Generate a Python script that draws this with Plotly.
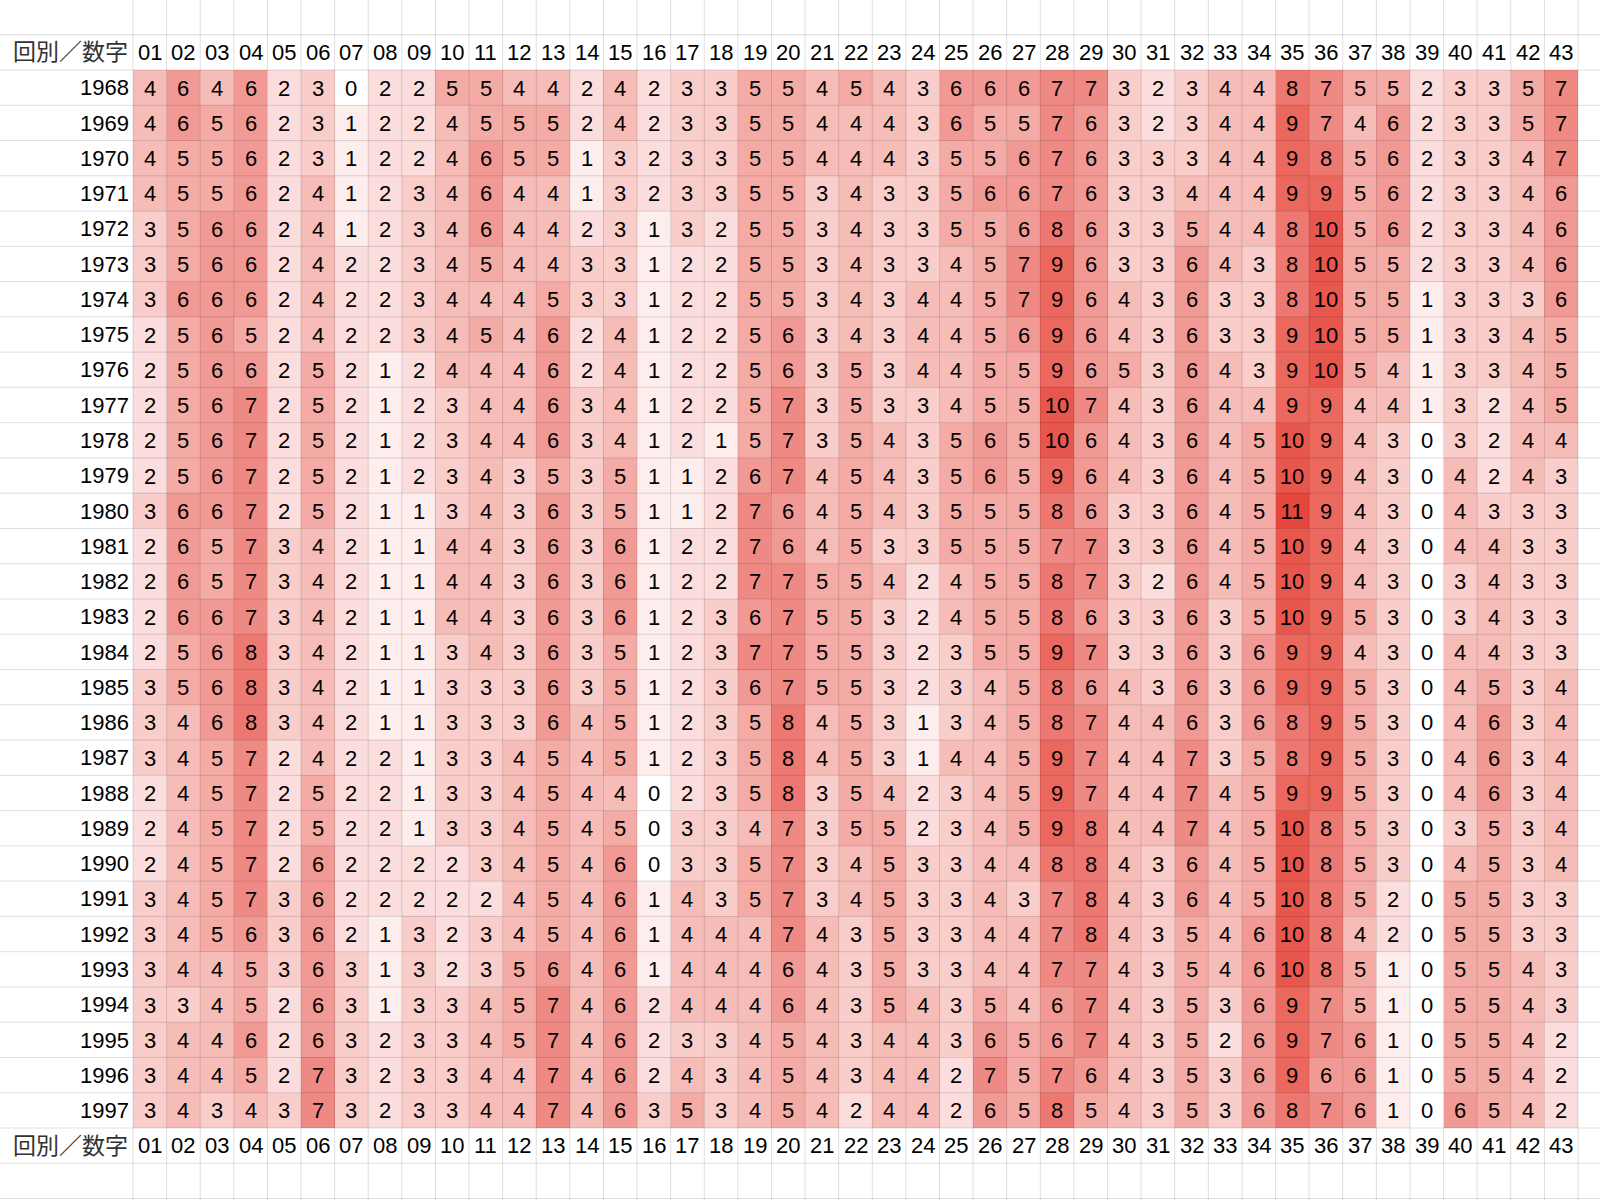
import plotly.graph_objects as go

# ---------------- data ----------------
numbers = [f"{i:02d}" for i in range(1, 44)]
years = [str(y) for y in range(1968, 1998)]
header_label = "回別／数字"

r1968 = [4, 6, 4, 6, 2, 3, 0, 2, 2, 5, 5, 4, 4, 2, 4, 2, 3, 3, 5, 5, 4, 5, 4, 3, 6, 6, 6, 7, 7, 3, 2, 3, 4, 4, 8, 7, 5, 5, 2, 3, 3, 5, 7]
r1969 = [4, 6, 5, 6, 2, 3, 1, 2, 2, 4, 5, 5, 5, 2, 4, 2, 3, 3, 5, 5, 4, 4, 4, 3, 6, 5, 5, 7, 6, 3, 2, 3, 4, 4, 9, 7, 4, 6, 2, 3, 3, 5, 7]
r1970 = [4, 5, 5, 6, 2, 3, 1, 2, 2, 4, 6, 5, 5, 1, 3, 2, 3, 3, 5, 5, 4, 4, 4, 3, 5, 5, 6, 7, 6, 3, 3, 3, 4, 4, 9, 8, 5, 6, 2, 3, 3, 4, 7]
r1971 = [4, 5, 5, 6, 2, 4, 1, 2, 3, 4, 6, 4, 4, 1, 3, 2, 3, 3, 5, 5, 3, 4, 3, 3, 5, 6, 6, 7, 6, 3, 3, 4, 4, 4, 9, 9, 5, 6, 2, 3, 3, 4, 6]
r1972 = [3, 5, 6, 6, 2, 4, 1, 2, 3, 4, 6, 4, 4, 2, 3, 1, 3, 2, 5, 5, 3, 4, 3, 3, 5, 5, 6, 8, 6, 3, 3, 5, 4, 4, 8, 10, 5, 6, 2, 3, 3, 4, 6]
r1973 = [3, 5, 6, 6, 2, 4, 2, 2, 3, 4, 5, 4, 4, 3, 3, 1, 2, 2, 5, 5, 3, 4, 3, 3, 4, 5, 7, 9, 6, 3, 3, 6, 4, 3, 8, 10, 5, 5, 2, 3, 3, 4, 6]
r1974 = [3, 6, 6, 6, 2, 4, 2, 2, 3, 4, 4, 4, 5, 3, 3, 1, 2, 2, 5, 5, 3, 4, 3, 4, 4, 5, 7, 9, 6, 4, 3, 6, 3, 3, 8, 10, 5, 5, 1, 3, 3, 3, 6]
r1975 = [2, 5, 6, 5, 2, 4, 2, 2, 3, 4, 5, 4, 6, 2, 4, 1, 2, 2, 5, 6, 3, 4, 3, 4, 4, 5, 6, 9, 6, 4, 3, 6, 3, 3, 9, 10, 5, 5, 1, 3, 3, 4, 5]
r1976 = [2, 5, 6, 6, 2, 5, 2, 1, 2, 4, 4, 4, 6, 2, 4, 1, 2, 2, 5, 6, 3, 5, 3, 4, 4, 5, 5, 9, 6, 5, 3, 6, 4, 3, 9, 10, 5, 4, 1, 3, 3, 4, 5]
r1977 = [2, 5, 6, 7, 2, 5, 2, 1, 2, 3, 4, 4, 6, 3, 4, 1, 2, 2, 5, 7, 3, 5, 3, 3, 4, 5, 5, 10, 7, 4, 3, 6, 4, 4, 9, 9, 4, 4, 1, 3, 2, 4, 5]
r1978 = [2, 5, 6, 7, 2, 5, 2, 1, 2, 3, 4, 4, 6, 3, 4, 1, 2, 1, 5, 7, 3, 5, 4, 3, 5, 6, 5, 10, 6, 4, 3, 6, 4, 5, 10, 9, 4, 3, 0, 3, 2, 4, 4]
r1979 = [2, 5, 6, 7, 2, 5, 2, 1, 2, 3, 4, 3, 5, 3, 5, 1, 1, 2, 6, 7, 4, 5, 4, 3, 5, 6, 5, 9, 6, 4, 3, 6, 4, 5, 10, 9, 4, 3, 0, 4, 2, 4, 3]
r1980 = [3, 6, 6, 7, 2, 5, 2, 1, 1, 3, 4, 3, 6, 3, 5, 1, 1, 2, 7, 6, 4, 5, 4, 3, 5, 5, 5, 8, 6, 3, 3, 6, 4, 5, 11, 9, 4, 3, 0, 4, 3, 3, 3]
r1981 = [2, 6, 5, 7, 3, 4, 2, 1, 1, 4, 4, 3, 6, 3, 6, 1, 2, 2, 7, 6, 4, 5, 3, 3, 5, 5, 5, 7, 7, 3, 3, 6, 4, 5, 10, 9, 4, 3, 0, 4, 4, 3, 3]
r1982 = [2, 6, 5, 7, 3, 4, 2, 1, 1, 4, 4, 3, 6, 3, 6, 1, 2, 2, 7, 7, 5, 5, 4, 2, 4, 5, 5, 8, 7, 3, 2, 6, 4, 5, 10, 9, 4, 3, 0, 3, 4, 3, 3]
r1983 = [2, 6, 6, 7, 3, 4, 2, 1, 1, 4, 4, 3, 6, 3, 6, 1, 2, 3, 6, 7, 5, 5, 3, 2, 4, 5, 5, 8, 6, 3, 3, 6, 3, 5, 10, 9, 5, 3, 0, 3, 4, 3, 3]
r1984 = [2, 5, 6, 8, 3, 4, 2, 1, 1, 3, 4, 3, 6, 3, 5, 1, 2, 3, 7, 7, 5, 5, 3, 2, 3, 5, 5, 9, 7, 3, 3, 6, 3, 6, 9, 9, 4, 3, 0, 4, 4, 3, 3]
r1985 = [3, 5, 6, 8, 3, 4, 2, 1, 1, 3, 3, 3, 6, 3, 5, 1, 2, 3, 6, 7, 5, 5, 3, 2, 3, 4, 5, 8, 6, 4, 3, 6, 3, 6, 9, 9, 5, 3, 0, 4, 5, 3, 4]
r1986 = [3, 4, 6, 8, 3, 4, 2, 1, 1, 3, 3, 3, 6, 4, 5, 1, 2, 3, 5, 8, 4, 5, 3, 1, 3, 4, 5, 8, 7, 4, 4, 6, 3, 6, 8, 9, 5, 3, 0, 4, 6, 3, 4]
r1987 = [3, 4, 5, 7, 2, 4, 2, 2, 1, 3, 3, 4, 5, 4, 5, 1, 2, 3, 5, 8, 4, 5, 3, 1, 4, 4, 5, 9, 7, 4, 4, 7, 3, 5, 8, 9, 5, 3, 0, 4, 6, 3, 4]
r1988 = [2, 4, 5, 7, 2, 5, 2, 2, 1, 3, 3, 4, 5, 4, 4, 0, 2, 3, 5, 8, 3, 5, 4, 2, 3, 4, 5, 9, 7, 4, 4, 7, 4, 5, 9, 9, 5, 3, 0, 4, 6, 3, 4]
r1989 = [2, 4, 5, 7, 2, 5, 2, 2, 1, 3, 3, 4, 5, 4, 5, 0, 3, 3, 4, 7, 3, 5, 5, 2, 3, 4, 5, 9, 8, 4, 4, 7, 4, 5, 10, 8, 5, 3, 0, 3, 5, 3, 4]
r1990 = [2, 4, 5, 7, 2, 6, 2, 2, 2, 2, 3, 4, 5, 4, 6, 0, 3, 3, 5, 7, 3, 4, 5, 3, 3, 4, 4, 8, 8, 4, 3, 6, 4, 5, 10, 8, 5, 3, 0, 4, 5, 3, 4]
r1991 = [3, 4, 5, 7, 3, 6, 2, 2, 2, 2, 2, 4, 5, 4, 6, 1, 4, 3, 5, 7, 3, 4, 5, 3, 3, 4, 3, 7, 8, 4, 3, 6, 4, 5, 10, 8, 5, 2, 0, 5, 5, 3, 3]
r1992 = [3, 4, 5, 6, 3, 6, 2, 1, 3, 2, 3, 4, 5, 4, 6, 1, 4, 4, 4, 7, 4, 3, 5, 3, 3, 4, 4, 7, 8, 4, 3, 5, 4, 6, 10, 8, 4, 2, 0, 5, 5, 3, 3]
r1993 = [3, 4, 4, 5, 3, 6, 3, 1, 3, 2, 3, 5, 6, 4, 6, 1, 4, 4, 4, 6, 4, 3, 5, 3, 3, 4, 4, 7, 7, 4, 3, 5, 4, 6, 10, 8, 5, 1, 0, 5, 5, 4, 3]
r1994 = [3, 3, 4, 5, 2, 6, 3, 1, 3, 3, 4, 5, 7, 4, 6, 2, 4, 4, 4, 6, 4, 3, 5, 4, 3, 5, 4, 6, 7, 4, 3, 5, 3, 6, 9, 7, 5, 1, 0, 5, 5, 4, 3]
r1995 = [3, 4, 4, 6, 2, 6, 3, 2, 3, 3, 4, 5, 7, 4, 6, 2, 3, 3, 4, 5, 4, 3, 4, 4, 3, 6, 5, 6, 7, 4, 3, 5, 2, 6, 9, 7, 6, 1, 0, 5, 5, 4, 2]
r1996 = [3, 4, 4, 5, 2, 7, 3, 2, 3, 3, 4, 4, 7, 4, 6, 2, 4, 3, 4, 5, 4, 3, 4, 4, 2, 7, 5, 7, 6, 4, 3, 5, 3, 6, 9, 6, 6, 1, 0, 5, 5, 4, 2]
r1997 = [3, 4, 3, 4, 3, 7, 3, 2, 3, 3, 4, 4, 7, 4, 6, 3, 5, 3, 4, 5, 4, 2, 4, 4, 2, 6, 5, 8, 5, 4, 3, 5, 3, 6, 8, 7, 6, 1, 0, 6, 5, 4, 2]

counts = [r1968, r1969, r1970, r1971, r1972, r1973, r1974, r1975, r1976, r1977,
          r1978, r1979, r1980, r1981, r1982, r1983, r1984, r1985, r1986, r1987,
          r1988, r1989, r1990, r1991, r1992, r1993, r1994, r1995, r1996, r1997]

# ---------------- style ----------------
W, H = 1600, 1200
L, R, T, B = 133, 22, 70, 72
FONT = "Arial, 'Liberation Sans', 'Noto Sans CJK JP', sans-serif"
FS = 22
TXT = "#000000"
GRID = "rgba(0,0,0,0.13)"

fig = go.Figure(
    go.Heatmap(
        z=counts, x=numbers, y=years,
        colorscale=[[0, "#ffffff"], [1, "#e6463c"]],
        zmin=0, zmax=11, showscale=False,
        texttemplate="%{z}",
        textfont=dict(size=FS, color=TXT, family=FONT),
        hoverinfo="skip",
    )
)

ncol, nrow = len(numbers), len(years)
pw = W - L - R

shapes = []
# vertical grid lines (spreadsheet columns), spanning the whole sheet
for i in range(ncol + 2):
    xp = i / ncol
    shapes.append(dict(type="line", xref="paper", yref="paper", x0=xp, x1=xp,
                       y0=-1, y1=2, line=dict(color=GRID, width=1), layer="above"))
# horizontal grid lines (spreadsheet rows), spanning the whole width
for j in range(-3, nrow + 4):
    yp = 1 - j / nrow
    shapes.append(dict(type="line", xref="paper", yref="paper", x0=-L / pw - 0.05,
                       x1=1 + R / pw + 0.05, y0=yp, y1=yp,
                       line=dict(color=GRID, width=1), layer="above"))

annotations = []
for yp in (1 + 0.5 / nrow, -0.5 / nrow):
    for idx, n in enumerate(numbers):
        annotations.append(dict(x=idx, y=yp, xref="x", yref="paper", text=n,
                                xanchor="center", yanchor="middle", showarrow=False,
                                font=dict(size=FS, color=TXT, family=FONT)))
    annotations.append(dict(x=-3 / pw, y=yp, xref="paper", yref="paper", text=header_label,
                            xanchor="right", yanchor="middle", showarrow=False,
                            font=dict(size=23, color="#333333", family=FONT)))

fig.update_layout(
    width=W, height=H,
    margin=dict(l=L, r=R, t=T, b=B, pad=0),
    paper_bgcolor="white", plot_bgcolor="white",
    shapes=shapes, annotations=annotations,
    font=dict(family=FONT, size=FS, color=TXT),
    xaxis=dict(type="category", range=[-0.5, ncol - 0.5], autorange=False,
               showticklabels=False, showgrid=False, zeroline=False,
               showline=False, ticks="", fixedrange=True),
    yaxis=dict(type="category", range=[nrow - 0.5, -0.5], autorange=False,
               showgrid=False, zeroline=False,
               showline=False, ticks="", ticklabelstandoff=3,
               tickfont=dict(size=FS, color=TXT, family=FONT), fixedrange=True),
)

fig.write_html("out.html", include_plotlyjs=True, full_html=True,
               config={"displayModeBar": False},
               post_script="document.body.style.margin='0';")
